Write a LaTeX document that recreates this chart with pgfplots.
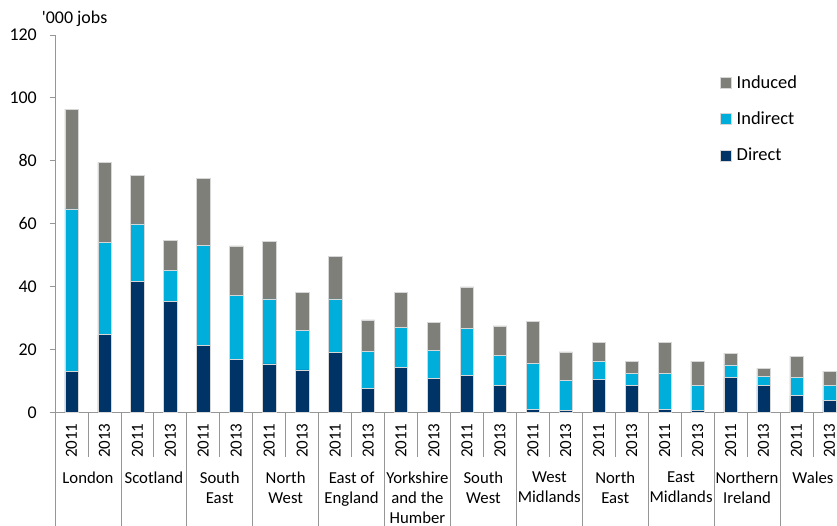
\documentclass[border=0pt]{standalone}
\usepackage{fontspec}
\setmainfont{Carlito}
\usepackage{pgfplots}
\pgfplotsset{compat=1.18}
\usepackage{pgfplotstable}
\definecolor{cInduced}{RGB}{127,127,121}
\definecolor{cIndirect}{RGB}{0,174,219}
\definecolor{cDirect}{RGB}{0,51,102}
\definecolor{axgray}{RGB}{150,150,150}
\definecolor{edge}{RGB}{215,215,215}
\tikzset{regionlabel/.style={anchor=north, yshift=-59.5bp, align=center, inner sep=0pt, font=\fontsize{16.8}{20}\selectfont}}

\pgfplotstableread{
x direct indirect induced
0  12.9 51.8 31.7
1  24.7 29.4 25.4
2  41.6 18.3 15.5
3  35.3  9.9  9.5
4  21.2 31.9 21.3
5  16.8 20.4 15.7
6  15.4 20.7 18.3
7  13.5 12.6 12.0
8  19.1 17.0 13.5
9   7.5 11.9 10.0
10 14.2 12.8 11.1
11 10.9  8.7  8.9
12 11.7 14.9 13.3
13  8.5  9.6  9.4
14  0.85 14.65 13.3
15  0.5  9.6  9.1
16 10.4  5.8  6.0
17  8.6  3.8  3.9
18  0.85 11.55 9.8
19  0.5  8.0  7.8
20 11.1  4.0  3.7
21  8.6  2.9  2.5
22  5.3  5.8  6.8
23  3.9  4.7  4.5
}\data

\begin{document}
\begin{tikzpicture}
\begin{axis}[
  at={(0,0)}, anchor=south west,
  scale only axis,
  width=782bp, height=377.3bp,
  xmin=-0.5, xmax=23.23,
  ymin=0, ymax=120,
  clip=false,
  ytick={0,20,...,120},
  axis x line=bottom, axis y line=left,
  axis line style={axgray, line width=0.8bp, -},
  tick align=outside,
  major tick length=5bp,
  y tick style={axgray, line width=0.8bp},
  x tick style={draw=none},
  /pgf/number format/assume math mode=true,
  yticklabel style={font=\fontsize{18}{21}\selectfont, anchor=east, inner sep=0pt, xshift=-13bp},
  xtick={0,...,23},
  xticklabels={2011,2013,2011,2013,2011,2013,2011,2013,2011,2013,2011,2013,2011,2013,2011,2013,2011,2013,2011,2013,2011,2013,2011,2013},
  xticklabel style={yshift=-6bp, rotate=90, anchor=east, inner sep=0pt, font=\fontsize{17}{20}\selectfont},
  ybar stacked, bar width=13.3bp,
  legend style={at={(0.8504,0.8926)}, anchor=north west, draw=none, fill=none, inner sep=0pt, row sep=22bp, column sep=5bp, font=\fontsize{18.5}{22}\selectfont, nodes={inner sep=0pt}},
  legend cell align=left,
  reverse legend,
  legend image code/.code={\fill[#1] (0bp,-5.5bp) rectangle (11bp,5.5bp);},
]
\addplot[fill=cDirect, draw=edge, line width=0.5bp] table[x=x, y=direct]{\data};
\addlegendentry{Direct}
\addplot[fill=cIndirect, draw=edge, line width=0.5bp] table[x=x, y=indirect]{\data};
\addlegendentry{Indirect}
\addplot[fill=cInduced, draw=edge, line width=0.5bp] table[x=x, y=induced]{\data};
\addlegendentry{Induced}

\pgfplotsinvokeforeach{0.5,2.5,4.5,6.5,8.5,10.5,12.5,14.5,16.5,18.5,20.5,22.5}{
  \draw[axgray, line width=0.8bp] (axis cs:#1,0) -- ([yshift=-45bp]axis cs:#1,0);
}
\pgfplotsinvokeforeach{-0.5,1.5,3.5,5.5,7.5,9.5,11.5,13.5,15.5,17.5,19.5,21.5,23.5}{
  \draw[axgray, line width=0.8bp] (axis cs:#1,0) -- ([yshift=-114bp]axis cs:#1,0);
}
\node[regionlabel] at (axis cs:0.5,0) {London};
\node[regionlabel] at (axis cs:2.5,0) {Scotland};
\node[regionlabel] at (axis cs:4.5,0) {South\\East};
\node[regionlabel] at (axis cs:6.5,0) {North\\West};
\node[regionlabel] at (axis cs:8.5,0) {East of\\England};
\node[regionlabel] at (axis cs:10.5,0) {Yorkshire\\and the\\Humber};
\node[regionlabel] at (axis cs:12.5,0) {South\\West};
\node[regionlabel] at (axis cs:14.5,0) {West\\Midlands};
\node[regionlabel] at (axis cs:16.5,0) {North\\East};
\node[regionlabel] at (axis cs:18.5,0) {East\\Midlands};
\node[regionlabel] at (axis cs:20.5,0) {Northern\\Ireland};
\node[regionlabel] at (axis cs:22.5,0) {Wales};
\node[anchor=base west, inner sep=0pt, font=\fontsize{18}{21}\selectfont] at (rel axis cs:0,1) [xshift=-13.3bp, yshift=11bp] {\textquotesingle 000 jobs};
\end{axis}
\pgfresetboundingbox
\path[use as bounding box] (-55bp,-113.7bp) rectangle (782bp,412.3bp);
\end{tikzpicture}
\end{document}
